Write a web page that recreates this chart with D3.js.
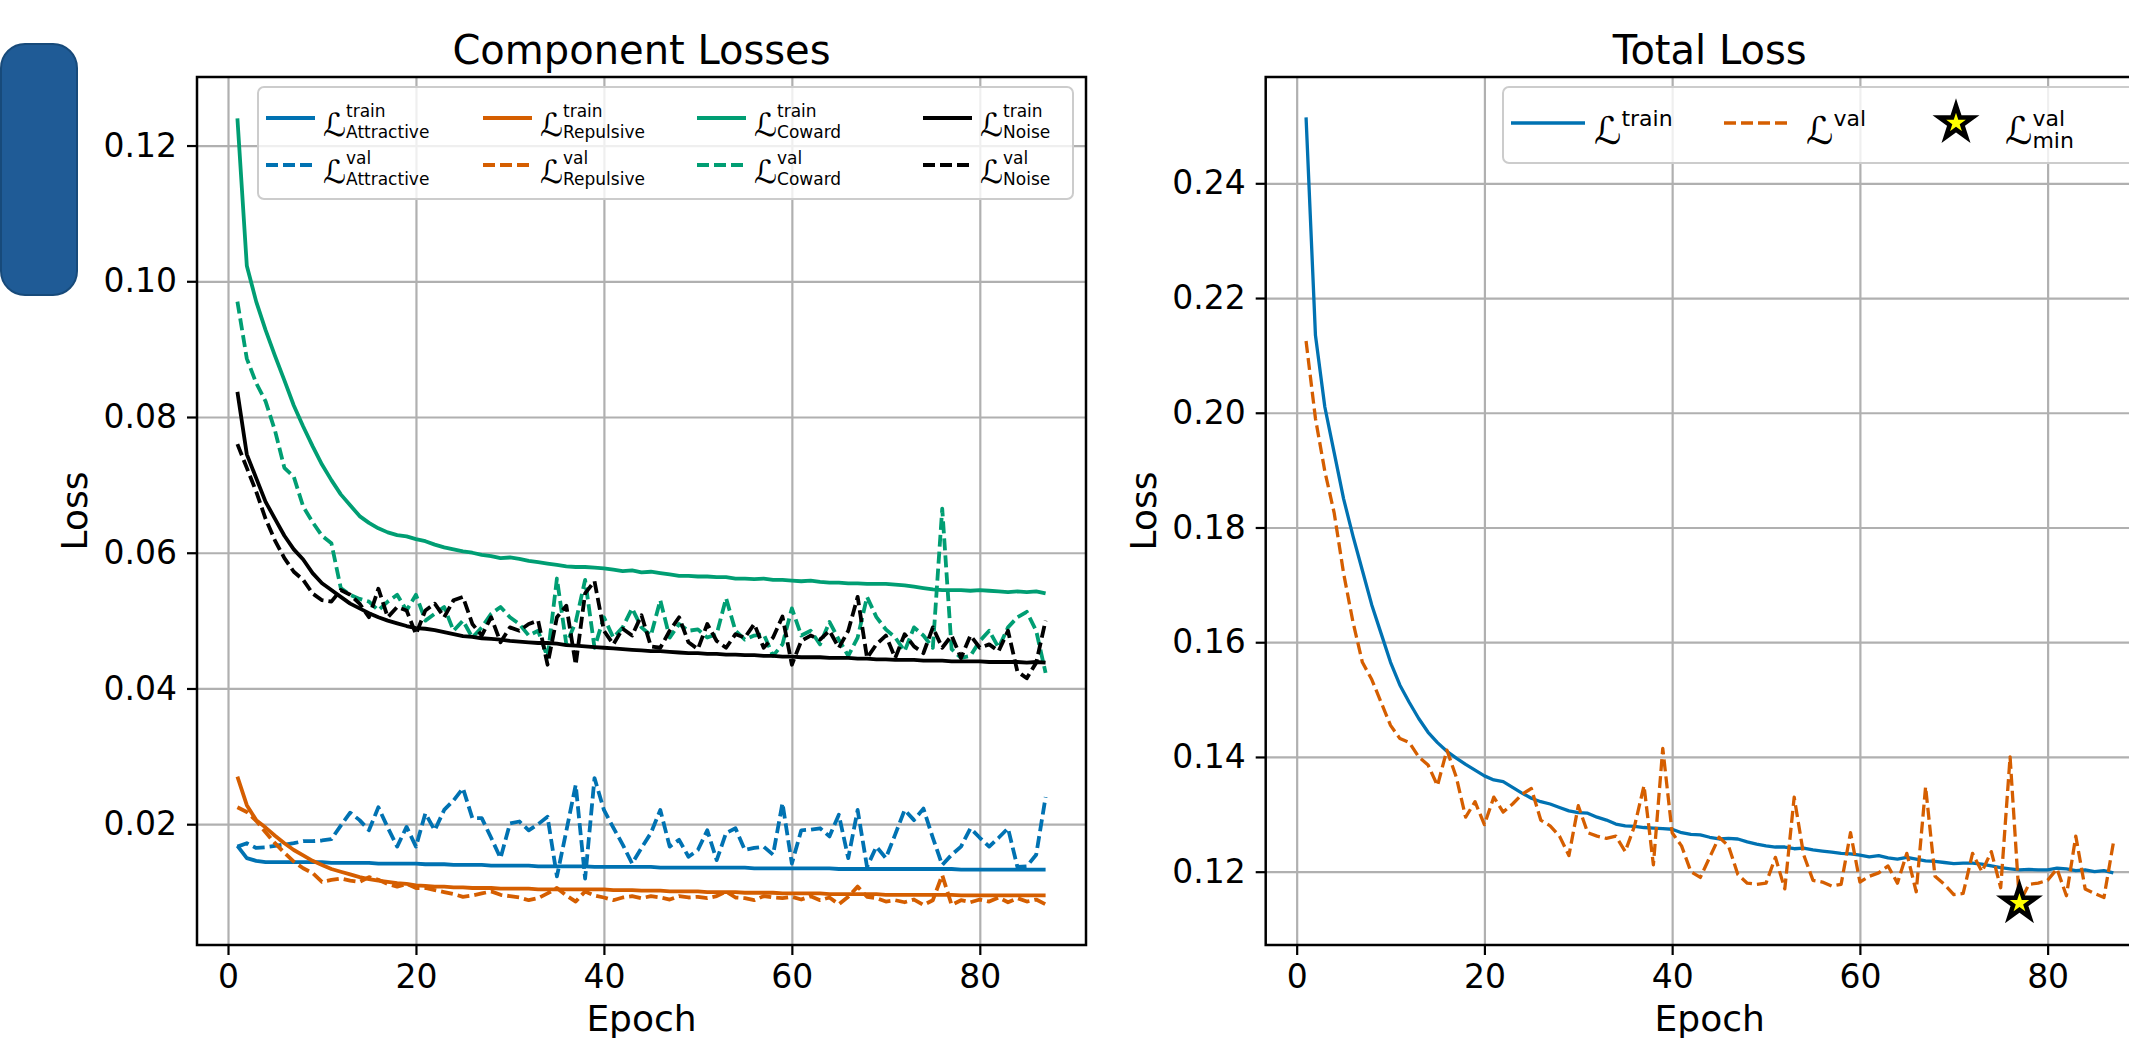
<!DOCTYPE html>
<html>
<head>
<meta charset="utf-8">
<script src="https://cdn.jsdelivr.net/npm/d3@7"></script>
<style>
  body { margin: 0; background: #fff; }
  svg { display: block; font-family: "DejaVu Sans", sans-serif; }
</style>
</head>
<body>
<script>
// epochs run 1..87
var xTicks = [0, 20, 40, 60, 80];
var yTicksLeft = [0.02, 0.04, 0.06, 0.08, 0.10, 0.12];
var yTicksRight = [0.12, 0.14, 0.16, 0.18, 0.20, 0.22, 0.24];

var attrTrain = [
  0.0168,0.0150,0.0146,0.0144,0.0144,0.0144,0.0144,0.0144,0.0144,0.0144,
  0.0143,0.0143,0.0143,0.0143,0.0143,0.0142,0.0142,0.0142,0.0142,0.0142,
  0.0141,0.0141,0.0141,0.0140,0.0140,0.0140,0.0140,0.0139,0.0139,0.0139,
  0.0139,0.0139,0.0138,0.0138,0.0138,0.0138,0.0138,0.0138,0.0137,0.0137,
  0.0137,0.0137,0.0137,0.0137,0.0137,0.0136,0.0136,0.0136,0.0136,0.0136,
  0.0136,0.0136,0.0136,0.0136,0.0136,0.0135,0.0135,0.0135,0.0135,0.0135,
  0.0135,0.0135,0.0135,0.0135,0.0134,0.0134,0.0134,0.0134,0.0134,0.0134,
  0.0134,0.0134,0.0134,0.0134,0.0134,0.0134,0.0134,0.0133,0.0133,0.0133,
  0.0133,0.0133,0.0133,0.0133,0.0133,0.0133,0.0133];
var attrVal = [
  0.0167,0.0172,0.0165,0.0166,0.0168,0.0170,0.0172,0.0175,0.0175,0.0176,
  0.0178,0.0198,0.0217,0.0206,0.0191,0.0225,0.0195,0.0167,0.0196,0.0167,
  0.0216,0.0191,0.0221,0.0235,0.0253,0.0209,0.0209,0.0180,0.0150,0.0201,
  0.0204,0.0191,0.0200,0.0211,0.0123,0.0190,0.0258,0.0120,0.0268,0.0221,
  0.0195,0.0170,0.0142,0.0165,0.0187,0.0221,0.0167,0.0177,0.0152,0.0162,
  0.0191,0.0147,0.0187,0.0194,0.0162,0.0165,0.0167,0.0155,0.0231,0.0142,
  0.0191,0.0192,0.0194,0.0182,0.0214,0.0150,0.0221,0.0137,0.0167,0.0150,
  0.0185,0.0221,0.0206,0.0223,0.0180,0.0140,0.0155,0.0167,0.0194,0.0180,
  0.0167,0.0180,0.0194,0.0137,0.0138,0.0155,0.0240];
var repTrain = [
  0.0270,0.0228,0.0206,0.0195,0.0183,0.0172,0.0162,0.0154,0.0146,0.0140,
  0.0134,0.0130,0.0126,0.0122,0.0119,0.0117,0.0115,0.0113,0.0112,0.0110,
  0.0109,0.0108,0.0108,0.0107,0.0107,0.0106,0.0106,0.0106,0.0105,0.0105,
  0.0105,0.0105,0.0104,0.0104,0.0104,0.0104,0.0104,0.0104,0.0104,0.0104,
  0.0103,0.0103,0.0103,0.0102,0.0102,0.0102,0.0101,0.0101,0.0101,0.0101,
  0.0100,0.0100,0.0100,0.0100,0.0099,0.0099,0.0099,0.0099,0.0098,0.0098,
  0.0098,0.0098,0.0098,0.0097,0.0097,0.0097,0.0097,0.0097,0.0097,0.0096,
  0.0096,0.0096,0.0096,0.0096,0.0096,0.0096,0.0096,0.0095,0.0095,0.0095,
  0.0095,0.0095,0.0095,0.0095,0.0095,0.0095,0.0095];
var repVal = [
  0.0225,0.0218,0.0205,0.0188,0.0172,0.0158,0.0145,0.0135,0.0128,0.0115,
  0.0118,0.0120,0.0117,0.0115,0.0122,0.0118,0.0112,0.0108,0.0112,0.0106,
  0.0106,0.0103,0.0100,0.0097,0.0093,0.0095,0.0098,0.0101,0.0096,0.0094,
  0.0092,0.0088,0.0091,0.0098,0.0106,0.0095,0.0086,0.0101,0.0095,0.0092,
  0.0088,0.0092,0.0094,0.0091,0.0094,0.0092,0.0089,0.0094,0.0092,0.0093,
  0.0091,0.0094,0.0101,0.0092,0.0091,0.0088,0.0094,0.0092,0.0091,0.0093,
  0.0089,0.0094,0.0088,0.0092,0.0082,0.0093,0.0108,0.0093,0.0091,0.0086,
  0.0088,0.0085,0.0089,0.0081,0.0088,0.0125,0.0081,0.0088,0.0085,0.0089,
  0.0086,0.0092,0.0085,0.0091,0.0086,0.0089,0.0082];
var cowTrain = [
  0.1240,0.1023,0.0970,0.0928,0.0890,0.0854,0.0817,0.0786,0.0757,0.0730,
  0.0707,0.0686,0.0670,0.0654,0.0644,0.0636,0.0630,0.0626,0.0624,0.0620,
  0.0617,0.0612,0.0608,0.0605,0.0602,0.0600,0.0597,0.0595,0.0592,0.0593,
  0.0591,0.0588,0.0586,0.0584,0.0582,0.0580,0.0579,0.0579,0.0578,0.0577,
  0.0575,0.0573,0.0574,0.0571,0.0572,0.0570,0.0568,0.0566,0.0566,0.0565,
  0.0565,0.0564,0.0564,0.0562,0.0562,0.0561,0.0562,0.0560,0.0560,0.0559,
  0.0558,0.0559,0.0557,0.0556,0.0556,0.0555,0.0555,0.0554,0.0554,0.0554,
  0.0553,0.0552,0.0550,0.0548,0.0546,0.0545,0.0545,0.0545,0.0544,0.0545,
  0.0544,0.0543,0.0542,0.0543,0.0542,0.0543,0.0540];
var cowVal = [
  0.0970,0.0886,0.0850,0.0823,0.0780,0.0725,0.0712,0.0668,0.0645,0.0625,
  0.0614,0.0548,0.0538,0.0532,0.0528,0.0515,0.0528,0.0538,0.0515,0.0538,
  0.0500,0.0510,0.0520,0.0485,0.0500,0.0475,0.0490,0.0510,0.0520,0.0505,
  0.0495,0.0478,0.0485,0.0446,0.0562,0.0465,0.0498,0.0560,0.0460,0.0505,
  0.0475,0.0490,0.0518,0.0490,0.0478,0.0530,0.0475,0.0495,0.0485,0.0487,
  0.0475,0.0480,0.0533,0.0485,0.0472,0.0478,0.0480,0.0448,0.0465,0.0518,
  0.0478,0.0485,0.0465,0.0498,0.0472,0.0448,0.0475,0.0535,0.0505,0.0487,
  0.0475,0.0455,0.0490,0.0478,0.0460,0.0665,0.0458,0.0445,0.0448,0.0470,
  0.0485,0.0460,0.0490,0.0505,0.0513,0.0485,0.0423];
var noiseTrain = [
  0.0837,0.0745,0.0710,0.0675,0.0650,0.0625,0.0605,0.0590,0.0570,0.0555,
  0.0545,0.0535,0.0525,0.0518,0.0511,0.0505,0.0500,0.0496,0.0492,0.0489,
  0.0488,0.0486,0.0483,0.0480,0.0477,0.0476,0.0474,0.0473,0.0472,0.0470,
  0.0469,0.0468,0.0467,0.0467,0.0466,0.0464,0.0463,0.0462,0.0461,0.0460,
  0.0459,0.0458,0.0457,0.0456,0.0455,0.0455,0.0454,0.0453,0.0452,0.0452,
  0.0451,0.0451,0.0450,0.0450,0.0449,0.0449,0.0448,0.0448,0.0447,0.0447,
  0.0446,0.0446,0.0446,0.0445,0.0445,0.0445,0.0444,0.0444,0.0443,0.0443,
  0.0442,0.0442,0.0442,0.0441,0.0441,0.0441,0.0440,0.0440,0.0440,0.0440,
  0.0439,0.0439,0.0439,0.0439,0.0438,0.0439,0.0438];
var noiseVal = [
  0.0760,0.0725,0.0690,0.0650,0.0618,0.0592,0.0572,0.0560,0.0540,0.0530,
  0.0528,0.0545,0.0538,0.0525,0.0505,0.0547,0.0505,0.0520,0.0515,0.0480,
  0.0515,0.0525,0.0505,0.0530,0.0535,0.0495,0.0478,0.0505,0.0468,0.0490,
  0.0485,0.0495,0.0500,0.0435,0.0505,0.0522,0.0435,0.0540,0.0558,0.0485,
  0.0465,0.0488,0.0478,0.0508,0.0462,0.0460,0.0485,0.0505,0.0468,0.0458,
  0.0495,0.0470,0.0460,0.0480,0.0475,0.0495,0.0460,0.0475,0.0506,0.0435,
  0.0470,0.0478,0.0472,0.0485,0.0460,0.0485,0.0535,0.0445,0.0465,0.0478,
  0.0445,0.0480,0.0462,0.0452,0.0490,0.0460,0.0478,0.0445,0.0478,0.0460,
  0.0465,0.0455,0.0485,0.0425,0.0415,0.0438,0.0500];

var totalTrain = [
  0.2515,0.2135,0.2010,0.1930,0.1850,0.1785,0.1725,0.1665,0.1615,0.1565,
  0.1525,0.1495,0.1467,0.1443,0.1425,0.1410,0.1398,0.1387,0.1377,0.1367,
  0.1360,0.1357,0.1347,0.1337,0.1328,0.1322,0.1318,0.1312,0.1306,0.1303,
  0.1302,0.1295,0.1290,0.1283,0.1280,0.1279,0.1277,0.1276,0.1275,0.1274,
  0.1268,0.1265,0.1264,0.1260,0.1257,0.1258,0.1257,0.1252,0.1248,0.1245,
  0.1243,0.1243,0.1240,0.1241,0.1238,0.1236,0.1234,0.1232,0.1231,0.1229,
  0.1226,0.1228,0.1224,0.1222,0.1225,0.1222,0.1219,0.1218,0.1216,0.1214,
  0.1215,0.1215,0.1213,0.1210,0.1207,0.1205,0.1203,0.1204,0.1203,0.1203,
  0.1206,0.1205,0.1202,0.1203,0.1200,0.1202,0.1198];
var totalVal = [
  0.2125,0.1990,0.1898,0.1825,0.1720,0.1635,0.1565,0.1535,0.1495,0.1455,
  0.1432,0.1425,0.1400,0.1386,0.1350,0.1412,0.1365,0.1295,0.1322,0.1282,
  0.1330,0.1304,0.1318,0.1335,0.1345,0.1290,0.1280,0.1262,0.1228,0.1315,
  0.1268,0.1262,0.1258,0.1262,0.1235,0.1280,0.1350,0.1212,0.1415,0.1268,
  0.1245,0.1200,0.1190,0.1225,0.1260,0.1245,0.1195,0.1180,0.1178,0.1180,
  0.1225,0.1170,0.1330,0.1230,0.1185,0.1182,0.1175,0.1178,0.1268,0.1182,
  0.1192,0.1198,0.1210,0.1180,0.1232,0.1165,0.1348,0.1192,0.1178,0.1160,
  0.1162,0.1232,0.1200,0.1235,0.1172,0.1400,0.1145,0.1178,0.1180,0.1185,
  0.1205,0.1158,0.1262,0.1170,0.1162,0.1155,0.1250];

var BLUE = "#0072b2", ORANGE = "#d55e00", GREEN = "#009e73", BLACK = "#000000";
var DASH = "12,5";

var full_width = 2129, full_height = 1042;
var top_y = 77, bottom_y = 945;

var svg = d3.select("body").append("svg")
  .attr("width", full_width)
  .attr("height", full_height);

// the blue tab on the left edge
svg.append("rect")
  .attr("x", 1).attr("y", 44)
  .attr("width", 76).attr("height", 251)
  .attr("rx", 24)
  .attr("fill", "#1f5b96")
  .attr("stroke", "#174a7a")
  .attr("stroke-width", 2);

// L with a superscript and/or subscript, like mathtext
var mathLabel = function(g, x, baseY, sup, sub, fs, sfs, supDy, subDy) {
  var L = g.append("text")
    .attr("x", x).attr("y", baseY)
    .attr("font-size", fs)
    .text("\u2112");
  var w = L.node().getComputedTextLength();
  g.append("text")
    .attr("x", x + w).attr("y", baseY + supDy)
    .attr("font-size", sfs)
    .text(sup);
  if (sub) {
    g.append("text")
      .attr("x", x + w).attr("y", baseY + subDy)
      .attr("font-size", sfs)
      .text(sub);
  }
};

var makePanel = function(p) {
  var x = d3.scaleLinear().domain([-3.3, 91.3]).range([p.left, p.right]);
  var y = d3.scaleLinear().domain(p.yDomain).range([bottom_y, top_y]);
  var h = bottom_y - top_y;

  var g = svg.append("g");

  // grid
  g.append("g")
    .attr("transform", "translate(0," + bottom_y + ")")
    .call(d3.axisBottom(x).tickValues(xTicks).tickSize(-h).tickFormat(""))
    .call(function(a) { a.select(".domain").remove(); })
    .selectAll("line").attr("stroke", "#b0b0b0").attr("stroke-width", 2.2);
  g.append("g")
    .attr("transform", "translate(" + p.left + ",0)")
    .call(d3.axisLeft(y).tickValues(p.yTicks).tickSize(-(p.right - p.left)).tickFormat(""))
    .call(function(a) { a.select(".domain").remove(); })
    .selectAll("line").attr("stroke", "#b0b0b0").attr("stroke-width", 2.2);

  // lines
  var line = d3.line()
    .x(function(d, i) { return x(i + 1); })
    .y(function(d) { return y(d); });

  p.series.forEach(function(s) {
    g.append("path")
      .datum(s.values)
      .attr("fill", "none")
      .attr("stroke", s.color)
      .attr("stroke-width", p.lineWidth)
      .attr("stroke-dasharray", s.dashed ? DASH : null)
      .attr("stroke-linejoin", "round")
      .attr("d", line);
  });

  if (p.star) {
    var mi = d3.minIndex(p.star);
    g.append("path")
      .attr("d", d3.symbol().type(d3.symbolStar).size(340)())
      .attr("transform", "translate(" + x(mi + 1) + "," + y(p.star[mi]) + ")")
      .attr("fill", "#ffff00")
      .attr("stroke", "#000")
      .attr("stroke-width", 4.5);
  }

  // frame
  g.append("rect")
    .attr("x", p.left).attr("y", top_y)
    .attr("width", p.right - p.left).attr("height", h)
    .attr("fill", "none")
    .attr("stroke", "#000")
    .attr("stroke-width", 2.5);

  // axes
  var xa = g.append("g")
    .attr("transform", "translate(0," + bottom_y + ")")
    .call(d3.axisBottom(x).tickValues(xTicks).tickSize(10).tickPadding(10));
  var ya = g.append("g")
    .attr("transform", "translate(" + p.left + ",0)")
    .call(d3.axisLeft(y).tickValues(p.yTicks).tickSize(10).tickPadding(10).tickFormat(d3.format(".2f")));
  [xa, ya].forEach(function(a) {
    a.select(".domain").remove();
    a.selectAll("line").attr("stroke", "#000").attr("stroke-width", 2.2);
    a.selectAll("text")
      .attr("font-size", 33)
      .attr("font-family", "DejaVu Sans")
      .attr("fill", "#000");
  });

  g.append("text")
    .attr("x", (p.left + p.right) / 2).attr("y", 1031)
    .attr("text-anchor", "middle")
    .attr("font-size", 36)
    .text("Epoch");
  g.append("text")
    .attr("transform", "translate(" + p.ylabelX + "," + (top_y + bottom_y) / 2 + ") rotate(-90)")
    .attr("text-anchor", "middle")
    .attr("font-size", 36)
    .text("Loss");
  g.append("text")
    .attr("x", (p.left + p.right) / 2).attr("y", 64)
    .attr("text-anchor", "middle")
    .attr("font-size", 40)
    .text(p.title);

  return g;
};

// ---------- left: component losses ----------
var left = makePanel({
  left: 197, right: 1086,
  yDomain: [0.0022, 0.1301],
  yTicks: yTicksLeft,
  ylabelX: 87,
  lineWidth: 3.8,
  title: "Component Losses",
  series: [
    {values: attrTrain, color: BLUE},
    {values: attrVal, color: BLUE, dashed: true},
    {values: repTrain, color: ORANGE},
    {values: repVal, color: ORANGE, dashed: true},
    {values: cowTrain, color: GREEN},
    {values: cowVal, color: GREEN, dashed: true},
    {values: noiseTrain, color: BLACK},
    {values: noiseVal, color: BLACK, dashed: true}
  ]
});

var legL = left.append("g");
legL.append("rect")
  .attr("x", 258).attr("y", 87).attr("width", 815).attr("height", 112)
  .attr("rx", 6)
  .attr("fill", "#fff").attr("fill-opacity", 0.8)
  .attr("stroke", "#cccccc").attr("stroke-width", 2);

var legNames = ["Attractive", "Repulsive", "Coward", "Noise"];
var legColors = [BLUE, ORANGE, GREEN, BLACK];
var legCols = [266, 483, 697, 923];
var legRows = [118, 165];
legNames.forEach(function(name, c) {
  ["train", "val"].forEach(function(kind, r) {
    var hx = legCols[c], ry = legRows[r];
    legL.append("line")
      .attr("x1", hx).attr("x2", hx + 49)
      .attr("y1", ry).attr("y2", ry)
      .attr("stroke", legColors[c])
      .attr("stroke-width", 3.8)
      .attr("stroke-dasharray", kind === "val" ? DASH : null);
    mathLabel(legL, hx + 57, ry + 18, kind, name, 32, 17, -19, 2);
  });
});

// ---------- right: total loss ----------
var right = makePanel({
  left: 1265.7, right: 2153.7,
  yDomain: [0.10722, 0.25853],
  yTicks: yTicksRight,
  ylabelX: 1156,
  lineWidth: 3.3,
  title: "Total Loss",
  series: [
    {values: totalTrain, color: BLUE},
    {values: totalVal, color: ORANGE, dashed: true}
  ],
  star: totalVal
});

var legR = right.append("g");
legR.append("rect")
  .attr("x", 1503).attr("y", 87).attr("width", 637).attr("height", 76)
  .attr("rx", 6)
  .attr("fill", "#fff").attr("fill-opacity", 0.8)
  .attr("stroke", "#cccccc").attr("stroke-width", 2);
legR.append("line")
  .attr("x1", 1511).attr("x2", 1585).attr("y1", 123).attr("y2", 123)
  .attr("stroke", BLUE).attr("stroke-width", 3.3);
mathLabel(legR, 1594, 144, "train", null, 38, 22, -18, 0);
legR.append("line")
  .attr("x1", 1724).attr("x2", 1792).attr("y1", 123).attr("y2", 123)
  .attr("stroke", ORANGE).attr("stroke-width", 3.3)
  .attr("stroke-dasharray", DASH);
mathLabel(legR, 1806, 144, "val", null, 38, 22, -18, 0);
legR.append("path")
  .attr("d", d3.symbol().type(d3.symbolStar).size(340)())
  .attr("transform", "translate(1956,123)")
  .attr("fill", "#ffff00")
  .attr("stroke", "#000")
  .attr("stroke-width", 4.5);
mathLabel(legR, 2005, 144, "val", "min", 38, 22, -18, 4);
</script>
</body>
</html>
